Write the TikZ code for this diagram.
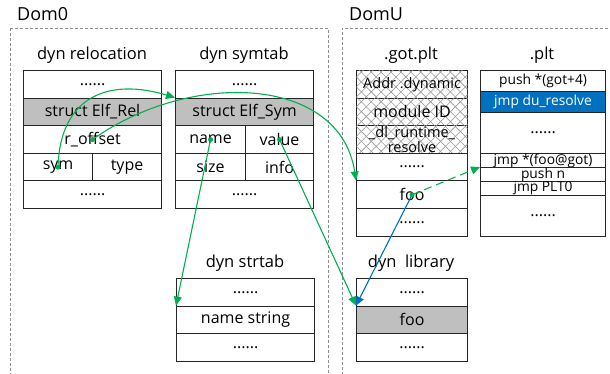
\documentclass[tikz,border=0pt]{standalone}
\usepackage{fontspec}
\setmainfont{Open Sans}
\usetikzlibrary{arrows.meta,patterns.meta}
\definecolor{grn}{RGB}{0,176,80}
\definecolor{blu}{RGB}{0,112,192}
\definecolor{cellgray}{RGB}{191,191,191}
\newcommand\rowcell[6]{\node[cell,minimum width=#3pt,minimum height=#4pt,#5] (#1) at (#2) {#6};}
\begin{document}
\begin{tikzpicture}[x=1pt,y=-1pt,
  cell/.style={draw=black!85,line width=1.1pt,anchor=north west,inner sep=0pt,
    font=\fontsize{16}{16}\selectfont,align=center},
  small/.style={font=\fontsize{13.8}{13.8}\selectfont},
  gray cell/.style={fill=cellgray},
  hatch/.style={postaction={pattern={Lines[angle=45,distance=7pt,line width=0.6pt]},pattern color=gray!80},
                postaction={pattern={Lines[angle=-45,distance=7pt,line width=0.6pt]},pattern color=gray!80}},
  title/.style={font=\fontsize{16.5}{16.5}\selectfont},
  dombox/.style={draw=gray!90,line width=0.8pt,dash pattern=on 3pt off 2pt},
  garrow/.style={draw=grn,line width=1.1pt,-{Triangle[length=9pt,width=8pt]}},
  barrow/.style={draw=blu,line width=1.1pt,-{Triangle[length=9pt,width=8pt]}},
  gdot/.style={fill=grn}
]
\useasboundingbox (0,0) rectangle (610,374);
\fill[white] (0,0) rectangle (610,374);
% domains
\draw[dombox] (10,28) -- (10,380);
\draw[dombox] (10,28) -- (328,28) -- (328,380);
\draw[dombox] (342,380) -- (342,28) -- (615,28);
\node[font=\fontsize{18}{18}\selectfont,anchor=west,inner sep=0pt] (dom0) at (17,14) {Dom0};
\node[font=\fontsize{18}{18}\selectfont,anchor=west,inner sep=0pt] (domu) at (349,14) {DomU};
% titles
\node[title] (trel) at (92,55) {dyn relocation};
\node[title] (tsym) at (244,55) {dyn symtab};
\node[title] (tgot) at (411,55) {.got.plt};
\node[title] (tplt) at (542,55) {.plt};
\node[title] (tstr) at (245,263) {dyn strtab};
\node[title] (tlib) at (411,263) {dyn\ \ library};
% dyn relocation
\rowcell{rel1}{23,70}{138}{27.6}{}{......}
\rowcell{rel2}{23,97.6}{138}{27.6}{gray cell}{struct Elf\_Rel}
\rowcell{rel3}{23,125.2}{138}{27.6}{}{r\_offset}
\rowcell{rel4a}{23,152.8}{69}{27.6}{}{sym}
\rowcell{rel4b}{92,152.8}{69}{27.6}{}{type}
\rowcell{rel5}{23,180.4}{138}{27.6}{}{......}
% dyn symtab
\rowcell{sym1}{175,70}{138}{27.6}{}{......}
\rowcell{sym2}{175,97.6}{138}{27.6}{gray cell}{struct Elf\_Sym}
\rowcell{sym3a}{175,125.2}{70}{27.6}{}{name}
\rowcell{sym3b}{245,125.2}{68}{27.6}{}{value}
\rowcell{sym4a}{175,152.8}{70}{27.6}{}{size}
\rowcell{sym4b}{245,152.8}{68}{27.6}{}{info}
\rowcell{sym5}{175,180.4}{138}{27.6}{}{......}
% .got.plt
\rowcell{got1}{356,70}{111}{27.6}{hatch,font=\fontsize{14.5}{14.5}\selectfont}{Addr .dynamic}
\rowcell{got2}{356,97.6}{111}{27.6}{hatch}{module ID}
\rowcell{got3}{356,125.2}{111}{27.6}{hatch,font=\fontsize{14.5}{12.5}\selectfont}{\_dl\_runtime\_\\resolve}
\rowcell{got4}{356,152.8}{111}{27.6}{}{......}
\rowcell{got5}{356,180.4}{111}{27.6}{}{foo}
\rowcell{got6}{356,208}{111}{27.6}{}{......}
% .plt
\rowcell{plt1}{480,70}{125}{21}{small}{push *(got+4)}
\rowcell{plt2}{480,91}{125}{21}{small,fill=blu,text=white}{jmp du\_resolve}
\rowcell{plt3}{480,112}{125}{41}{}{......}
\rowcell{plt4}{480,153}{125}{14}{small}{jmp *(foo@got)}
\rowcell{plt5}{480,167}{125}{14}{small}{push n}
\rowcell{plt6}{480,181}{125}{14}{small}{jmp PLT0}
\rowcell{plt7}{480,195}{125}{41}{}{......}
% dyn strtab
\rowcell{str1}{176,278}{138}{27.6}{}{......}
\rowcell{str2}{176,305.6}{138}{27.6}{}{name string}
\rowcell{str3}{176,333.2}{138}{27.6}{}{......}
% dyn library
\rowcell{lib1}{356,278}{111}{27.6}{}{......}
\rowcell{lib2}{356,305.6}{111}{27.6}{gray cell}{foo}
\rowcell{lib3}{356,333.2}{111}{27.6}{}{......}
% connectors
\draw[garrow] (rel4a.center) .. controls (60,95) and (110,78) .. (sym2.north west);
\draw[garrow] (rel3.center) .. controls (190,70) and (340,75) .. (got5.north west);
\draw[garrow] (sym3a.center) -- (str2.north west);
\draw[garrow] (sym3b.center) -- (lib2.north west);
\draw[barrow] (got5.center) -- (lib2.north west);
\draw[garrow,dash pattern=on 8pt off 5pt] (got5.center) -- (plt5.north west);
\foreach \n in {rel4a,rel3,sym3a,sym3b,got5} \fill[gdot] (\n.center) circle (2.5pt);
\end{tikzpicture}
\end{document}
